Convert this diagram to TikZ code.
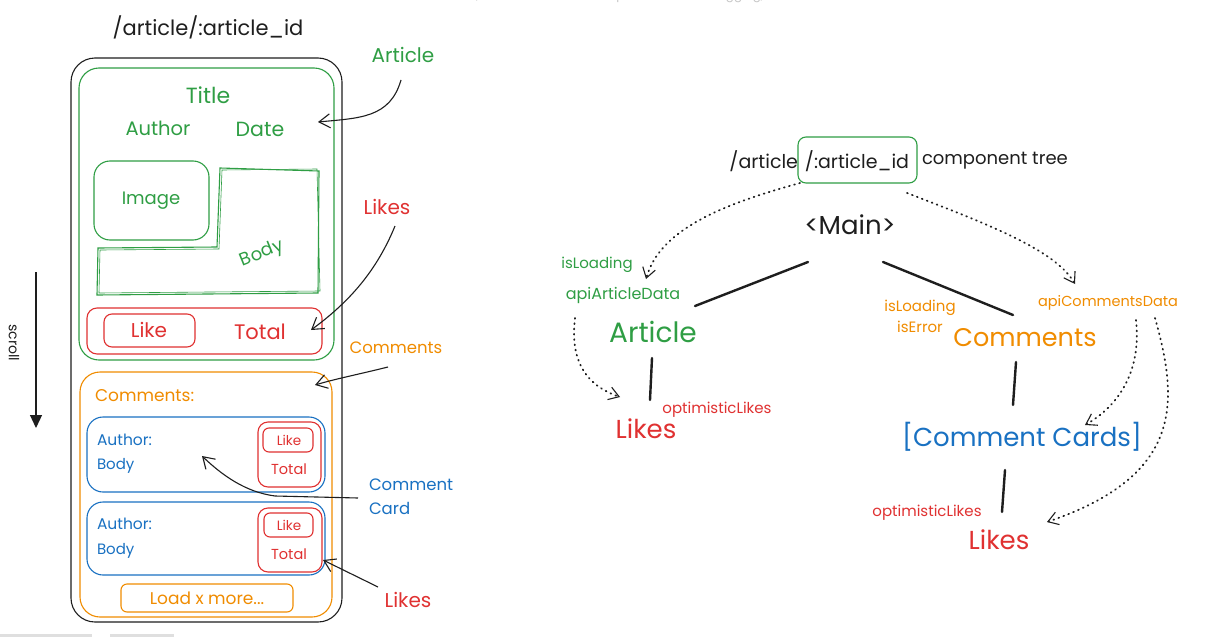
\documentclass[tikz,border=0pt]{standalone}
\usepackage{fontspec}
\setmainfont{Poppins}
\usetikzlibrary{arrows.meta}
\definecolor{cgreen}{HTML}{2F9E44}
\definecolor{cred}{HTML}{E03131}
\definecolor{corange}{HTML}{F08C00}
\definecolor{cblue}{HTML}{1971C2}
\definecolor{cblack}{HTML}{1E1E1E}
\tikzset{
  fs/.style={font=\fontsize{#1}{#1}\selectfont},
  frame/.style={draw, line width=1.1pt, inner sep=0pt, outer sep=0pt, anchor=north west},
  txt/.style={inner sep=0pt, outer sep=0pt},
  note/.style={draw=cblack, line width=1.1pt, -{Straight Barb[length=11pt,width=14pt]}},
  dotarr/.style={draw=cblack, line width=1.8pt, line cap=round, dash pattern=on 0.8pt off 4.5pt, -{Straight Barb[length=10pt,width=13pt,line width=1.1pt]}},
  treeline/.style={draw=cblack, line width=2.4pt, line cap=round},
}
\begin{document}
\begin{tikzpicture}[x=1pt,y=-1pt]
\useasboundingbox[fill=white] (0,0) rectangle (1231,637);

% UI artefacts
\node[txt, fs=12, text=gray!45] (hint) at (632,-3) {To move canvas, hold mouse wheel or spacebar while dragging, or use the hand tool};
\fill[gray!25] (0,634) rectangle (92,637);
\fill[gray!25] (110,634) rectangle (174,637);

% ---------------- left mock-up ----------------
\node[txt, fs=21, text=cblack] (ltitle) at (208,27) {/article/:article\_id};

\node[frame, draw=cblack, rounded corners=24pt, minimum width=271pt, minimum height=564pt] (outer) at (71,58) {};
\node[frame, draw=cgreen, rounded corners=20pt, minimum width=255pt, minimum height=292pt] (artbox) at (79,68) {};
\node[txt, fs=22, text=cgreen] (ttl) at (208,95) {Title};
\node[txt, fs=19.5, text=cgreen] (auth) at (158,128) {Author};
\node[txt, fs=20.5, text=cgreen] (date) at (260,129) {Date};
\node[frame, draw=cgreen, rounded corners=16pt, minimum width=115pt, minimum height=79pt] (img) at (94,161) {};
\node[txt, fs=18, text=cgreen] (imgt) at (151,201) {Image};
\draw[cgreen, line width=1.1pt] (220,168) -- (319,171) -- (318,293) -- (97,295) -- (98,248) -- (217,247) -- cycle;
\draw[cgreen, line width=0.6pt] (222,170) -- (317,169) -- (320,291) -- (99,293) -- (100,250) -- (219,249) -- cycle;
\node[txt, fs=18, text=cgreen, rotate=22] (bodyt) at (262,254) {Body};

\node[frame, draw=cred, rounded corners=10pt, minimum width=235pt, minimum height=46pt] (likebar) at (87,308) {};
\node[frame, draw=cred, rounded corners=8pt, minimum width=91pt, minimum height=33pt] (likebtn) at (104,314) {};
\node[txt, fs=20, text=cred] (liket) at (149,330) {Like};
\node[txt, fs=21, text=cred] (totalt) at (260,332) {Total};

\node[frame, draw=corange, rounded corners=20pt, minimum width=252pt, minimum height=245pt] (combox) at (80,372) {};
\node[txt, fs=17, text=corange, anchor=west] (comt) at (95,396) {Comments:};

\node[frame, draw=cblue, rounded corners=16pt, minimum width=238pt, minimum height=75pt] (card1) at (87,417) {};
\node[txt, fs=15.5, text=cblue, anchor=west] (c1a) at (97,440) {Author:};
\node[txt, fs=15, text=cblue, anchor=west] (c1b) at (97,466) {Body};
\node[frame, draw=cred, rounded corners=10pt, minimum width=63pt, minimum height=65pt] (c1r) at (258,422) {};
\node[frame, draw=cred, rounded corners=6pt, minimum width=50pt, minimum height=24pt] (c1l) at (263,428) {};
\node[txt, fs=13.5, text=cred] (c1lt) at (289,440) {Like};
\node[txt, fs=14.5, text=cred] (c1t) at (289,469) {Total};

\node[frame, draw=cblue, rounded corners=16pt, minimum width=238pt, minimum height=73pt] (card2) at (87,502) {};
\node[txt, fs=15.5, text=cblue, anchor=west] (c2a) at (97,524) {Author:};
\node[txt, fs=15, text=cblue, anchor=west] (c2b) at (97,551) {Body};
\node[frame, draw=cred, rounded corners=10pt, minimum width=64pt, minimum height=64pt] (c2r) at (258,508) {};
\node[frame, draw=cred, rounded corners=6pt, minimum width=49pt, minimum height=24pt] (c2l) at (264,513) {};
\node[txt, fs=13.5, text=cred] (c2lt) at (289,525) {Like};
\node[txt, fs=14.5, text=cred] (c2t) at (289,554) {Total};

\node[frame, draw=corange, rounded corners=6pt, minimum width=172pt, minimum height=28pt] (loadb) at (121,584) {};
\node[txt, fs=17, text=corange] (loadt) at (207,598) {Load x more...};

% scroll
\coordinate (s1) at (36,272);
\coordinate (s2) at (36,428);
\draw[cblack, line width=1.2pt, -{Triangle[length=13pt,width=12pt]}] (s1) -- (s2);
\node[txt, fs=14, text=cblack, rotate=-90] (scrollt) at (14,343) {scroll};

% annotations
\node[txt, fs=20, text=cgreen] (anArt) at (403,55) {Article};
\coordinate (aA1) at (401,80);
\coordinate (aA2) at (318,122);
\draw[note] (aA1) .. controls (390,118) and (360,118) .. (aA2);

\node[txt, fs=20, text=cred] (anLk1) at (387,207) {Likes};
\coordinate (aL1) at (395,226);
\coordinate (aL2) at (311,330);
\draw[note] (aL1) .. controls (375,275) and (345,305) .. (aL2);

\node[txt, fs=16.5, text=corange] (anCom) at (396,348) {Comments};
\coordinate (aC1) at (388,367);
\coordinate (aC2) at (315,385);
\draw[note] (aC1) .. controls (360,374) and (335,379) .. (aC2);

\node[txt, fs=16.5, text=cblue, anchor=west] (anCC1) at (369,485) {Comment};
\node[txt, fs=16.5, text=cblue, anchor=west] (anCC2) at (369,508) {Card};
\coordinate (aCC1) at (358,498);
\coordinate (aCC2) at (202,456);
\draw[note] (aCC1) -- (275,496) .. controls (245,492) and (222,475) .. (aCC2);

\node[txt, fs=20, text=cred] (anLk2) at (408,600) {Likes};
\coordinate (aL3) at (378,587);
\coordinate (aL4) at (323,560);
\draw[note] (aL3) -- (aL4);

% ---------------- component tree ----------------
\node[txt, fs=19, text=cblack, anchor=east] (rt1) at (798,161) {/article};
\node[txt, fs=19, text=cblack] (rt2) at (857,161) {/:article\_id};
\node[txt, fs=18, text=cblack, anchor=west] (rt3) at (922,161) {component tree};
\node[frame, draw=cgreen, rounded corners=8pt, minimum width=119pt, minimum height=46pt] (idbox) at (798,137) {};

\node[txt, fs=26, text=cblack] (main) at (850,225) {<Main>};

\node[txt, fs=28, text=cgreen] (tArt) at (653,332) {Article};
\node[txt, fs=26, text=cred] (tLk1) at (646,429) {Likes};
\node[txt, fs=15, text=cred] (tOL1) at (717,410) {optimisticLikes};
\node[txt, fs=15, text=cgreen] (tIL1) at (597,265) {isLoading};
\node[txt, fs=16, text=cgreen] (tAAD) at (623,295) {apiArticleData};

\node[txt, fs=25.5, text=corange] (tCom) at (1025,338) {Comments};
\node[txt, fs=15, text=corange] (tIL2) at (920,308) {isLoading};
\node[txt, fs=15, text=corange] (tIE) at (920,327) {isError};
\node[txt, fs=14.5, text=corange] (tACD) at (1108,303) {apiCommentsData};
\node[txt, fs=26, text=cblue] (tCC) at (1022,437) {[Comment Cards]};
\node[txt, fs=15, text=cred] (tOL2) at (927,513) {optimisticLikes};
\node[txt, fs=26, text=cred] (tLk2) at (999,540) {Likes};

% tree edges
\coordinate (e1a) at (808,262); \coordinate (e1b) at (695,306);
\coordinate (e2a) at (883,262); \coordinate (e2b) at (1013,315);
\coordinate (e3a) at (652,358); \coordinate (e3b) at (650,400);
\coordinate (e4a) at (1016,362); \coordinate (e4b) at (1013,405);
\coordinate (e5a) at (1005,470); \coordinate (e5b) at (1002,512);
\draw[treeline] (e1a) -- (e1b);
\draw[treeline] (e2a) -- (e2b);
\draw[treeline] (e3a) -- (e3b);
\draw[treeline] (e4a) -- (e4b);
\draw[treeline] (e5a) -- (e5b);

% data-flow arrows
\coordinate (d1a) at (800,183); \coordinate (d1b) at (646,279);
\draw[dotarr] (d1a) .. controls (720,205) and (660,230) .. (d1b);
\coordinate (d2a) at (575,318); \coordinate (d2b) at (620,397);
\draw[dotarr] (d2a) .. controls (570,360) and (585,385) .. (d2b);
\coordinate (d3a) at (907,193); \coordinate (d3b) at (1075,284);
\draw[dotarr] (d3a) .. controls (990,225) and (1055,250) .. (d3b);
\coordinate (d4a) at (1136,320); \coordinate (d4b) at (1085,425);
\draw[dotarr] (d4a) .. controls (1142,375) and (1115,408) .. (d4b);
\coordinate (d5a) at (1155,318); \coordinate (d5b) at (1047,522);
\draw[dotarr] (d5a) .. controls (1178,400) and (1185,475) .. (d5b);
\end{tikzpicture}
\end{document}
